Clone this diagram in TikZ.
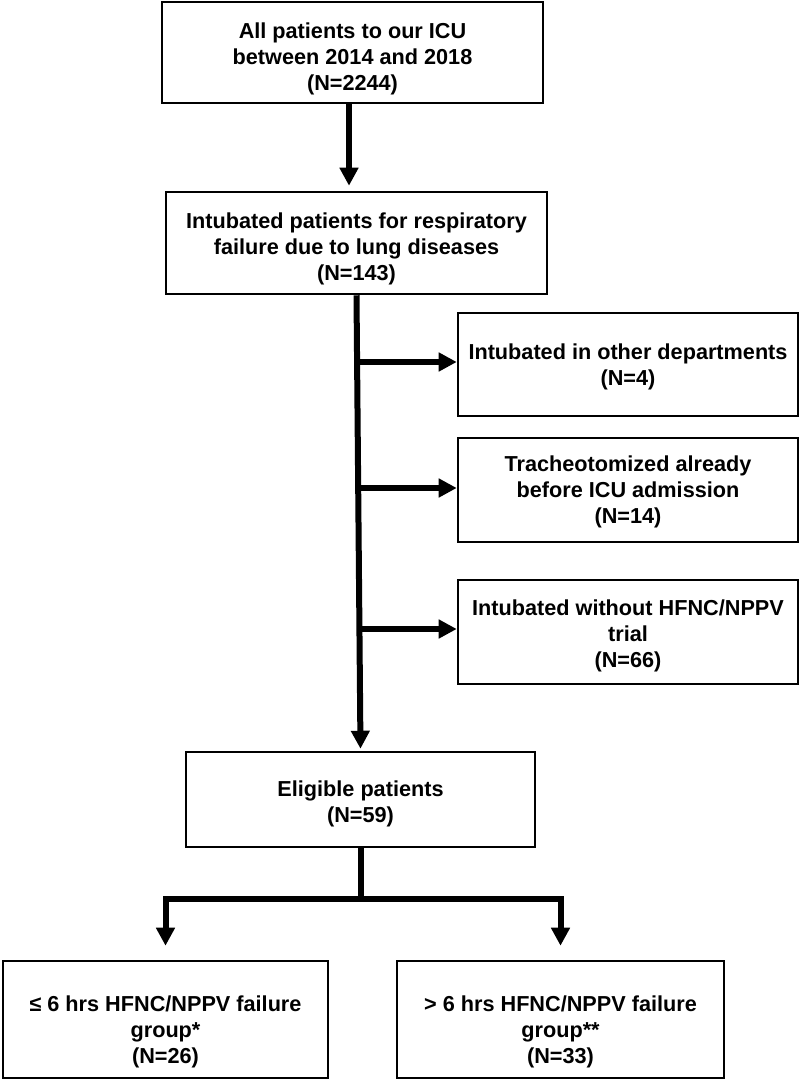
\documentclass[tikz,border=0pt]{standalone}
\usepackage{fontspec}
\setmainfont{Liberation Sans}
\usetikzlibrary{arrows.meta,calc}
\begin{document}
\begin{tikzpicture}[x=0.75pt,y=-0.75pt,
  boxtext/.style={align=center, font=\bfseries\fontsize{16.25}{19.5}\selectfont},
  box/.style={draw, line width=1.9pt, rectangle, inner sep=0pt},
  arr/.style={line width=4.5pt, -{Triangle[length=13.5pt,width=13.5pt]}},
  plainline/.style={line width=4.5pt}]
\fill[white] (0,0) rectangle (800,1080);
\useasboundingbox (0,0) rectangle (800,1080);

\node[box, minimum width=285.75pt, minimum height=75.75pt,
  label={[boxtext,yshift=-4.5pt]center:{All patients to our ICU\\between 2014 and 2018\\(N=2244)}}] (b1) at (352.5,52.5) {};
\node[box, minimum width=285.75pt, minimum height=76.5pt,
  label={[boxtext,yshift=-4.5pt]center:{Intubated patients for respiratory\\failure due to lung diseases\\(N=143)}}] (b2) at (356.5,243) {};
\node[box, minimum width=255pt, minimum height=77.25pt,
  label={[boxtext,yshift=-1.5pt]center:{Intubated in other departments\\(N=4)}}] (bA) at (628,364.5) {};
\node[box, minimum width=255pt, minimum height=78pt,
  label={[boxtext,yshift=-1.5pt]center:{Tracheotomized already\\before ICU admission\\(N=14)}}] (bB) at (628,490) {};
\node[box, minimum width=255pt, minimum height=78pt,
  label={[boxtext,yshift=-2.6pt]center:{Intubated without HFNC/NPPV\\trial\\(N=66)}}] (bC) at (628,632) {};
\node[box, minimum width=261.75pt, minimum height=71.25pt,
  label={[boxtext,yshift=-3pt]center:{Eligible patients\\(N=59)}}] (elig) at (360.5,799.5) {};
\node[box, minimum width=243.75pt, minimum height=87.75pt,
  label={[boxtext,yshift=-9.3pt]center:{≤ 6 hrs HFNC/NPPV failure\\group*\\(N=26)}}] (g1) at (165.5,1019.5) {};
\node[box, minimum width=245.25pt, minimum height=87.75pt,
  label={[boxtext,yshift=-9.3pt]center:{> 6 hrs HFNC/NPPV failure\\group**\\(N=33)}}] (g2) at (560.5,1019.5) {};

\coordinate (bar) at (360.5,899);

\draw[arr, shorten >=3.75pt] ($(b1.south)+(-3.5,0)$) -- ($(b1.south |- b2.north)+(-3.5,0)$);
\draw[arr, shorten >=1.5pt] (b2.south) -- (elig.north);
\draw[arr] ($(b2.south |- bA.west)+(0.5,-2.5)$) -- ($(bA.west)+(0,-2.5)$);
\draw[arr] ($(b2.south |- bB.west)+(1,-2)$) -- ($(bB.west)+(0,-2)$);
\draw[arr] ($(b2.south |- bC.west)+(2,-3)$) -- ($(bC.west)+(0,-3)$);
\draw[plainline] (elig.south) -- (bar);
\draw[arr, shorten >=10.5pt] (bar) -| (g1.north);
\draw[arr, shorten >=10.5pt] (bar) -| (g2.north);
\end{tikzpicture}
\end{document}
